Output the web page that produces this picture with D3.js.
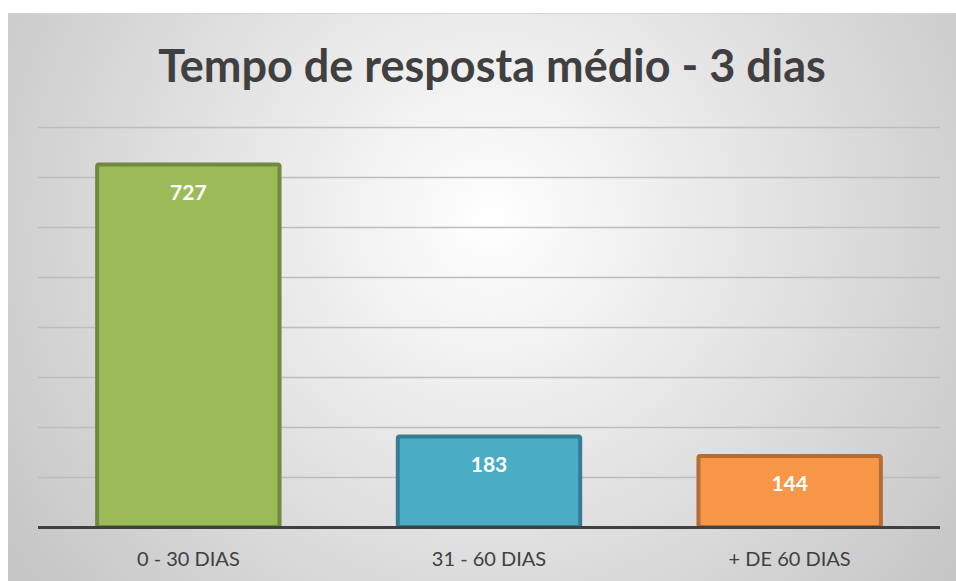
<!DOCTYPE html>
<html>
<head>
<meta charset="utf-8">
<script src="https://cdn.jsdelivr.net/npm/d3@7"></script>
<style>
  body { margin: 0; background: #fff; }
  svg { display: block; }
</style>
</head>
<body>
<script>
// chart data
var categories = ["0 - 30 DIAS", "31 - 60 DIAS", "+ DE 60 DIAS"];
var values = [727, 183, 144];
var fills = ["#9BBB59", "#4BACC6", "#F79646"];
var strokes = ["#71893F", "#357D91", "#B66D31"];
var gridTicks = [100, 200, 300, 400, 500, 600, 700, 800];
var title = "Tempo de resposta médio - 3 dias";

var w = 956, h = 581;
var svg = d3.select("body").append("svg")
  .attr("width", w)
  .attr("height", h);

// background gradient like the office chart style
var defs = svg.append("defs");
var grad = defs.append("radialGradient")
  .attr("id", "bg")
  .attr("gradientUnits", "userSpaceOnUse")
  .attr("cx", 490).attr("cy", 220).attr("r", 580);
grad.append("stop").attr("offset", "0%").attr("stop-color", "#ffffff");
grad.append("stop").attr("offset", "100%").attr("stop-color", "#c6c6c6");

svg.append("rect")
  .attr("x", 8).attr("y", 13)
  .attr("width", w - 8).attr("height", h - 13)
  .attr("fill", "url(#bg)");
svg.append("line")
  .attr("x1", 8).attr("x2", w).attr("y1", 13.5).attr("y2", 13.5)
  .attr("stroke", "#d4d4d4").attr("stroke-width", 1);

var plotLeft = 38, plotRight = 940, plotTop = 127, plotBottom = 527;

var x = d3.scaleBand()
  .domain(categories)
  .range([plotLeft, plotRight])
  .paddingInner(0.38)
  .paddingOuter(0.19);

var y = d3.scaleLinear()
  .domain([0, 800])
  .range([plotBottom, plotTop]);

// gridlines
svg.append("g").selectAll("line")
  .data(gridTicks)
  .enter().append("line")
  .attr("x1", plotLeft).attr("x2", plotRight)
  .attr("y1", function(d){ return Math.round(y(d)) + 0.5; })
  .attr("y2", function(d){ return Math.round(y(d)) + 0.5; })
  .attr("stroke", "#bdbdbd")
  .attr("stroke-width", 1.3);

// bars
svg.append("g").selectAll("rect")
  .data(values)
  .enter().append("rect")
  .attr("x", function(d, i){ return x(categories[i]) + 2; })
  .attr("y", function(d){ return y(d) + 1; })
  .attr("width", x.bandwidth() - 4)
  .attr("height", function(d){ return plotBottom - y(d) - 1; })
  .attr("rx", 2)
  .attr("fill", function(d, i){ return fills[i]; })
  .attr("stroke", function(d, i){ return strokes[i]; })
  .attr("stroke-width", 4);

// value labels
svg.append("g").selectAll("text")
  .data(values)
  .enter().append("text")
  .attr("x", function(d, i){ return x(categories[i]) + x.bandwidth() / 2; })
  .attr("y", function(d){ return y(d) + 36; })
  .attr("text-anchor", "middle")
  .attr("fill", "#fff")
  .attr("font-family", "Lato, 'Open Sans', sans-serif")
  .attr("font-weight", "bold")
  .attr("font-size", 21)
  .text(function(d){ return d; });

// baseline axis
var xAxis = svg.append("g")
  .attr("transform", "translate(0," + plotBottom + ")")
  .call(d3.axisBottom(x).tickSize(0).tickPadding(25));
xAxis.select(".domain")
  .attr("stroke", "#404040")
  .attr("stroke-width", 3)
  .attr("d", "M" + plotLeft + ",0.5H" + plotRight);
xAxis.selectAll("text")
  .attr("fill", "#404040")
  .attr("font-family", "Lato, 'Open Sans', sans-serif")
  .attr("font-size", 20);

// title
svg.append("text")
  .attr("x", 492)
  .attr("y", 82)
  .attr("text-anchor", "middle")
  .attr("fill", "#404040")
  .attr("font-family", "Lato, 'Open Sans', sans-serif")
  .attr("font-weight", "bold")
  .attr("font-size", 45)
  .text(title);
</script>
</body>
</html>
